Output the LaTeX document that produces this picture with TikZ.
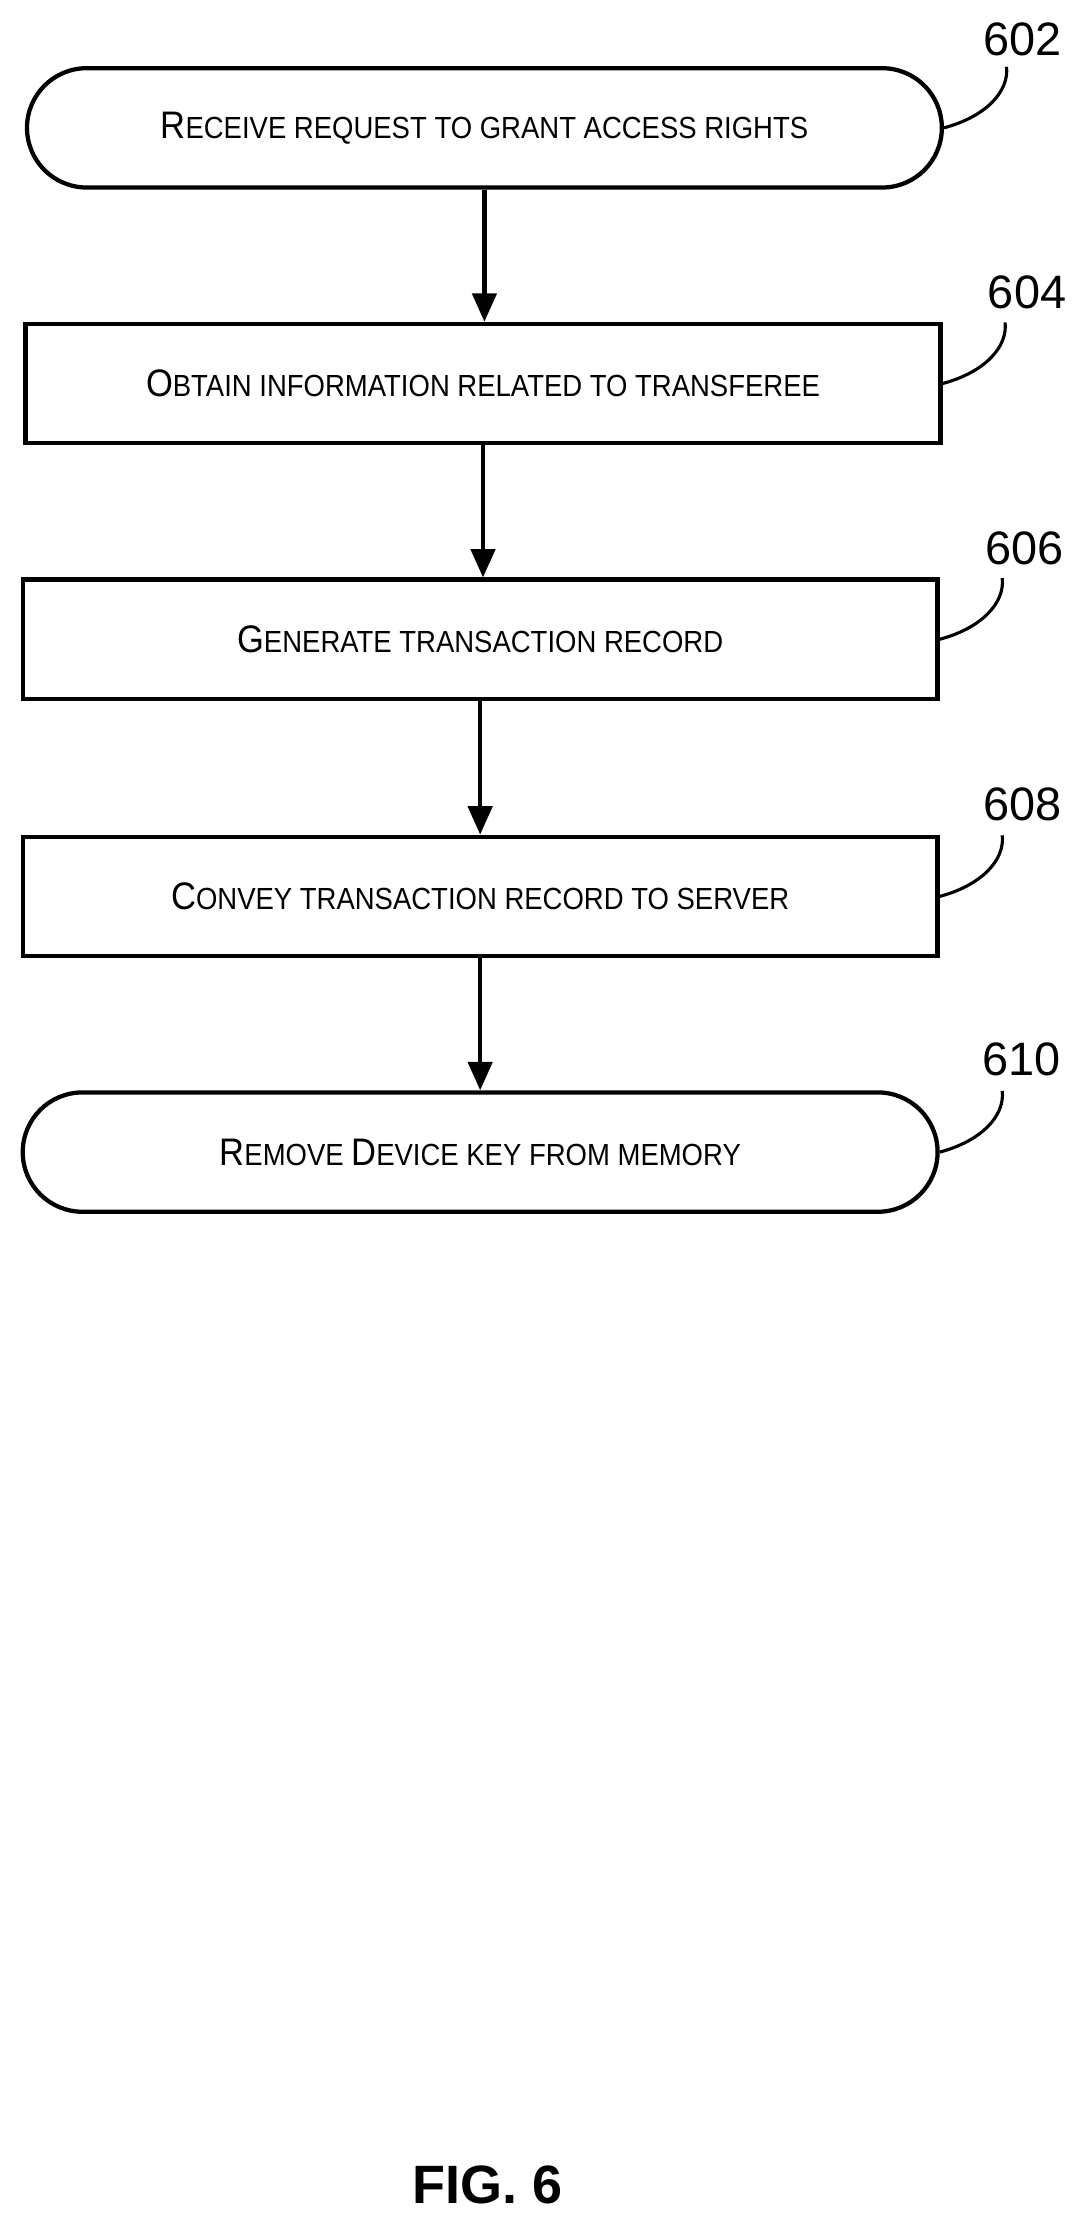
\documentclass[tikz,border=0pt]{standalone}
\usepackage{fontspec}
\setmainfont{Liberation Sans}
\usetikzlibrary{arrows.meta}
\newcommand{\fsc}[2]{\scalebox{0.9}[1]{{\fontsize{27}{27}\selectfont #1}{\fontsize{21.5}{22}\selectfont #2}}}
\begin{document}
\begin{tikzpicture}[x=1pt,y=-1pt,
  lw/.style={line width=3pt},
  term/.style={lw,draw,rounded corners=42pt,minimum width=644pt,minimum height=84pt,inner sep=0pt},
  proc/.style={lw,draw,minimum width=644pt,minimum height=84pt,inner sep=0pt},
  arr/.style={lw,-{Triangle[length=20pt,width=17pt]}},
  lead/.style={line width=2.2pt},
  num/.style={font=\fontsize{33}{33}\selectfont,inner sep=0pt}]
\useasboundingbox (0,0) rectangle (768,1572.6);
\node[term] (n602) at (341,90) {\fsc{R}{ECEIVE REQUEST TO GRANT ACCESS RIGHTS}};
\node[proc] (n604) at (340,270) {\fsc{O}{BTAIN INFORMATION RELATED TO TRANSFEREE}};
\node[proc] (n606) at (338,450) {\fsc{G}{ENERATE TRANSACTION RECORD}};
\node[proc] (n608) at (338,631) {\fsc{C}{ONVEY TRANSACTION RECORD TO SERVER}};
\node[term] (n610) at (338,811) {\fsc{R}{EMOVE }\fsc{D}{EVICE KEY FROM MEMORY}};
\draw[arr] (n602.south) -- (n602.south |- n604.north);
\draw[arr] (n604.south) -- (n604.south |- n606.north);
\draw[arr] (n606.south) -- (n606.south |- n608.north);
\draw[arr] (n608.south) -- (n608.south |- n610.north);
\node[num] (l602) at (720,28) {602};
\node[num] (l604) at (723,206) {604};
\node[num] (l606) at (721,386) {606};
\node[num] (l608) at (720,566) {608};
\node[num] (l610) at (719,746) {610};
\foreach \n in {602,604,606,608,610}{
  \draw[lead] (n\n.east) .. controls ([xshift=30pt,yshift=8pt]n\n.east) and ([xshift=46pt,yshift=26pt]n\n.east) .. ([xshift=44pt,yshift=43pt]n\n.east);
}
\node[font=\bfseries\fontsize{38}{38}\selectfont] (fig) at (343,1538) {FIG. 6};
\end{tikzpicture}
\end{document}
